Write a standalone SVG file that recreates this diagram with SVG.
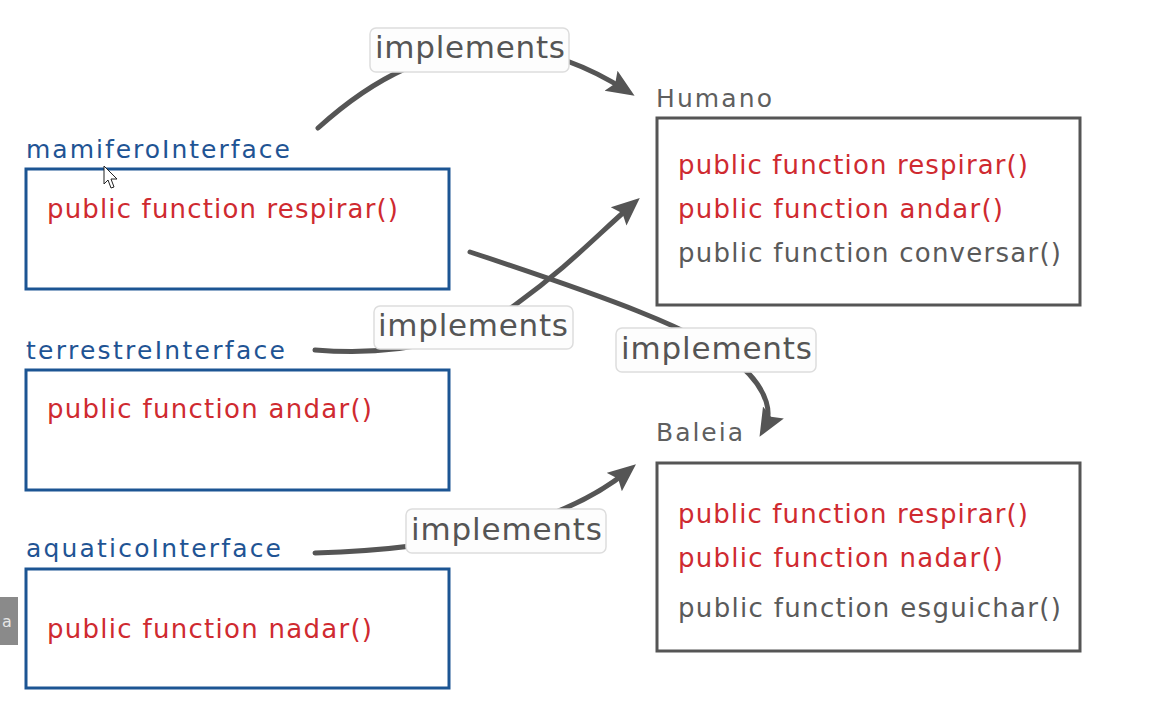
<svg xmlns="http://www.w3.org/2000/svg" width="1153" height="720" viewBox="0 0 1153 720">
<style>
.t{font-family:"DejaVu Sans","Liberation Sans",sans-serif}
.title-b{fill:#1f5494;font-size:25px}
.title-g{fill:#5f5f5f;font-size:25px}
.red{fill:#cf2a30;font-size:26px}
.gray{fill:#5a5a5a;font-size:26px}
.ibox{fill:#ffffff;stroke:#1c5593;stroke-width:3}
.cbox{fill:#ffffff;stroke:#555555;stroke-width:3}
.lbl rect{fill:#fdfdfd;stroke:#dddddd;stroke-width:1.5}
.lbl text{fill:#555555;font-size:31px}
.conn path{fill:none;stroke:#555555;stroke-width:5;stroke-linecap:round;marker-end:url(#ah)}
</style>
<defs>
<marker id="ah" markerUnits="userSpaceOnUse" markerWidth="28" markerHeight="26" viewBox="0 0 28 26" refX="19" refY="13" orient="auto">
<path d="M0,1 L28,13 L0,25 L5,13 z" fill="#555555"/>
</marker>
</defs>
<rect width="1153" height="720" fill="#ffffff"/>

<g id="connectors" class="conn">
<path d="M318,128 Q470,-10 627,91"/>
<path d="M315,350 C390,356 460,345 515,305 C570,265 596,236 633,204"/>
<path d="M470,252 C600,295 700,330 740,365 C770,392 772,415 764,429"/>
<path d="M315,553 Q420,550 500,530 Q580,510 629,470"/>
</g>

<g id="label-1" class="lbl t"><rect x="370" y="28" width="199" height="44" rx="6"/><text x="375" y="58" textLength="190">implements</text></g>
<g id="label-2" class="lbl t"><rect x="374" y="306" width="199" height="43" rx="6"/><text x="378" y="336" textLength="190">implements</text></g>
<g id="label-3" class="lbl t"><rect x="616" y="328" width="200" height="44" rx="6"/><text x="621" y="359" textLength="191">implements</text></g>
<g id="label-4" class="lbl t"><rect x="406" y="509" width="200" height="44" rx="6"/><text x="411" y="540" textLength="191">implements</text></g>

<g id="mamiferoInterface" class="t">
<text class="title-b" x="26" y="158" textLength="264">mamiferoInterface</text>
<rect class="ibox" x="26" y="169" width="423" height="120"/>
<text class="red" x="47" y="218" textLength="351">public function respirar()</text>
</g>
<g id="terrestreInterface" class="t">
<text class="title-b" x="26" y="359" textLength="259">terrestreInterface</text>
<rect class="ibox" x="26" y="370" width="423" height="120"/>
<text class="red" x="47" y="418" textLength="325">public function andar()</text>
</g>
<g id="aquaticoInterface" class="t">
<text class="title-b" x="26" y="557" textLength="255">aquaticoInterface</text>
<rect class="ibox" x="26" y="569" width="423" height="119"/>
<text class="red" x="47" y="638" textLength="325">public function nadar()</text>
</g>

<g id="Humano" class="t">
<text class="title-g" x="656" y="107" textLength="116">Humano</text>
<rect class="cbox" x="657" y="118" width="423" height="187"/>
<text class="red" x="678" y="174" textLength="350">public function respirar()</text>
<text class="red" x="678" y="218" textLength="325">public function andar()</text>
<text class="gray" x="678" y="262" textLength="383">public function conversar()</text>
</g>
<g id="Baleia" class="t">
<text class="title-g" x="656" y="441" textLength="87">Baleia</text>
<rect class="cbox" x="657" y="463" width="423" height="188"/>
<text class="red" x="678" y="523" textLength="350">public function respirar()</text>
<text class="red" x="678" y="567" textLength="325">public function nadar()</text>
<text class="gray" x="678" y="617" textLength="383">public function esguichar()</text>
</g>

<g id="overlay">
<rect x="0" y="597" width="18" height="48" fill="#8a8a8a"/>
<text class="t" x="2" y="627" font-size="16" fill="#e6e6e6">a</text>
<path d="M104,166 L104,184 L108,180 L111,188 L114,187 L111,179 L117,179 Z" fill="#ffffff" stroke="#222222" stroke-width="1"/>
</g>
</svg>
